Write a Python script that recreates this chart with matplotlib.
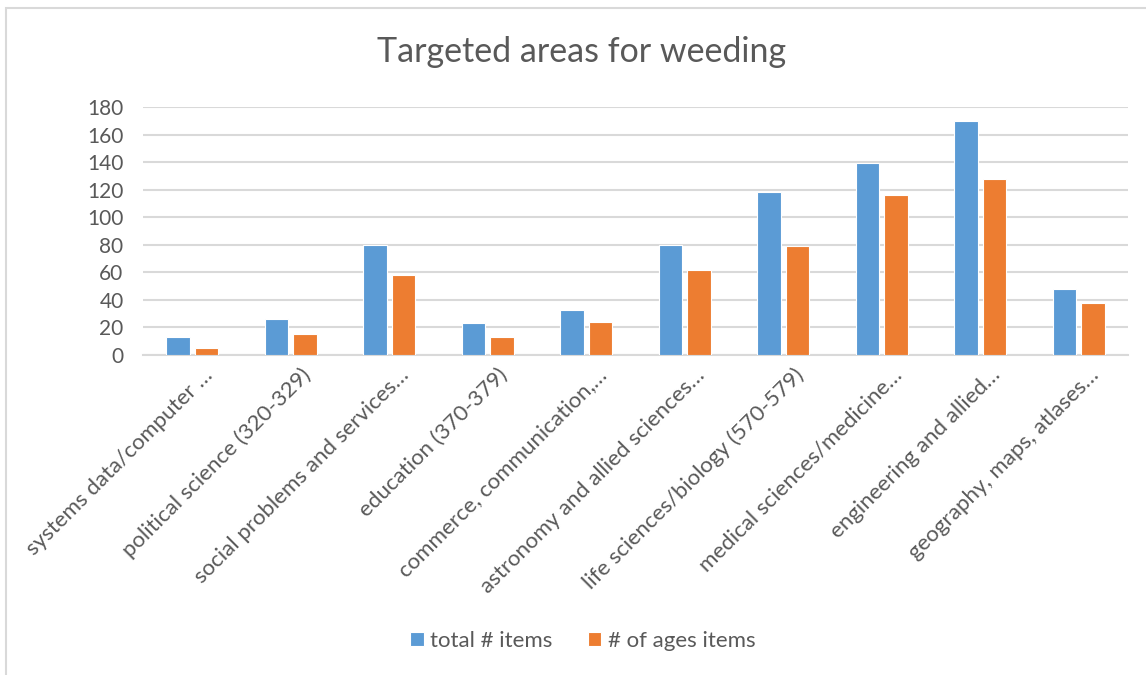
import matplotlib
matplotlib.use("Agg")
import matplotlib.pyplot as plt
import matplotlib.transforms as mtransforms
from matplotlib.patches import Rectangle
import numpy as np

categories = [
    "systems data/computer \u2026",
    "political science (320-329)",
    "social problems and services\u2026",
    "education (370-379)",
    "commerce, communication,\u2026",
    "astronomy and allied sciences\u2026",
    "life sciences/biology (570-579)",
    "medical sciences/medicine\u2026",
    "engineering and allied\u2026",
    "geography, maps, atlases\u2026",
]
total_items = [13, 26, 80, 23, 33, 80, 118, 139, 170, 48]
aged_items = [5, 15, 58, 13, 24, 62, 79, 116, 128, 38]
series_names = ["total # items", "# of ages items"]
y_ticks = [0, 20, 40, 60, 80, 100, 120, 140, 160, 180]

BLUE = "#5B9BD5"
ORANGE = "#ED7D31"
TEXT = "#595959"
GRID = "#D9D9D9"

plt.rcParams["font.family"] = ["Lato", "DejaVu Sans"]

W, H = 1146, 675
fig = plt.figure(figsize=(W / 100, H / 100), dpi=100)

# chart frame
fig.patches.append(Rectangle((6 / W, -0.01), 1.1, 1 - 8 / H + 0.01,
                             transform=fig.transFigure, fill=False,
                             edgecolor=GRID, linewidth=1.5))

ax = fig.add_axes([143 / W, 1 - 355 / H, (1128 - 143) / W, (355 - 107) / H])
x = np.arange(len(categories))
bw = 0.235
off = 0.145
ax.bar(x - off, total_items, bw, color=BLUE, edgecolor="white", linewidth=0.8,
       label=series_names[0], zorder=3)
ax.bar(x + off, aged_items, bw, color=ORANGE, edgecolor="white", linewidth=0.8,
       label=series_names[1], zorder=3)

ax.set_xlim(-0.5, len(categories) - 0.5)
ax.set_ylim(0, 180)
ax.set_yticks(y_ticks)
ax.set_yticklabels([str(v) for v in y_ticks])
ax.yaxis.grid(True, color=GRID, linewidth=1.5, zorder=0)
ax.set_axisbelow(True)
for s in ["top", "right", "left"]:
    ax.spines[s].set_visible(False)
ax.spines["bottom"].set_color(GRID)
ax.spines["bottom"].set_linewidth(1.5)
ax.tick_params(axis="both", length=0, colors=TEXT, labelsize=15)
ax.tick_params(axis="y", pad=14)

ax.set_xticks(x)
ax.set_xticklabels(categories, rotation=45, ha="right", va="center",
                   rotation_mode="anchor", fontsize=16, color=TEXT)
shift = mtransforms.ScaledTranslation(0.17, -0.12, fig.dpi_scale_trans)
for lbl in ax.get_xticklabels():
    lbl.set_transform(lbl.get_transform() + shift)

fig.text(582 / W, 1 - 52 / H, "Targeted areas for weeding", ha="center",
         va="center", fontsize=24.5, color=TEXT)

leg = fig.legend(loc="center", bbox_to_anchor=(583 / W, 1 - 641 / H), ncol=2,
                 frameon=False, fontsize=16, handlelength=0.6, handleheight=0.6,
                 handletextpad=0.3, columnspacing=1.6)
for t in leg.get_texts():
    t.set_color(TEXT)

fig.savefig("out.png", dpi=100)
